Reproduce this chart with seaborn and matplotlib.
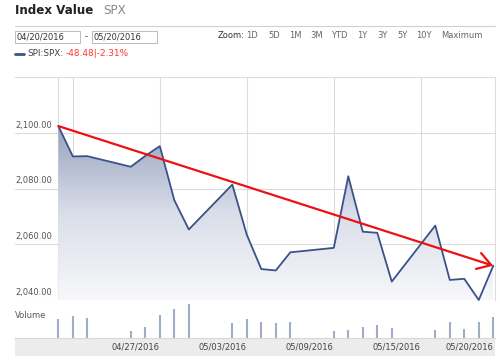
import numpy as np
import pandas as pd
import matplotlib
matplotlib.use("Agg")
import matplotlib.pyplot as plt
import matplotlib.dates as mdates
from matplotlib.patches import Rectangle, Polygon
from matplotlib.lines import Line2D
from matplotlib.colors import LinearSegmentedColormap
import seaborn as sns

# ---- data ----
dates = ["2016-04-20", "2016-04-21", "2016-04-22", "2016-04-25", "2016-04-26",
         "2016-04-27", "2016-04-28", "2016-04-29", "2016-05-02", "2016-05-03",
         "2016-05-04", "2016-05-05", "2016-05-06", "2016-05-09", "2016-05-10",
         "2016-05-11", "2016-05-12", "2016-05-13", "2016-05-16", "2016-05-17",
         "2016-05-18", "2016-05-19", "2016-05-20"]
close = [2102.4, 2091.5, 2091.6, 2087.8, 2091.7,
         2095.2, 2075.8, 2065.3, 2081.4, 2063.4,
         2051.1, 2050.6, 2057.1, 2058.7, 2084.4,
         2064.5, 2064.1, 2046.6, 2066.7, 2047.2,
         2047.6, 2040.0, 2052.3]
volume = [19, 22, 20, 7, 11, 23, 28, 33, 15, 19, 16, 15, 16,
          7, 8, 11, 13, 10, 8, 16, 9, 16, 21]

y_ticks = [2040, 2060, 2080, 2100]
grid_dates = ["2016-04-20", "2016-04-21", "2016-04-27", "2016-05-03",
              "2016-05-09", "2016-05-15"]
label_dates = ["2016-04-27", "2016-05-03", "2016-05-09", "2016-05-15", "2016-05-20"]
zoom_labels = ["1D", "5D", "1M", "3M", "YTD", "1Y", "3Y", "5Y", "10Y", "Maximum"]

df = pd.DataFrame({"Date": pd.to_datetime(dates), "Close": close, "Volume": volume})

LINE = "#3b5288"
GRID = "#dcdcdc"
W, H = 500, 360


def fx(x):
    return x / W


def fy(y):
    return 1 - y / H


sns.set_style("white")
plt.rcParams["font.family"] = ["DejaVu Sans"]

fig = plt.figure(figsize=(5, 3.6), dpi=100)
fig.patch.set_facecolor("white")

# ---- header ----
fig.text(fx(15), fy(14), "Index Value", fontsize=8.6, fontweight="bold", color="#222222")
fig.text(fx(103), fy(14), "SPX", fontsize=8.6, color="#888888")
fig.add_artist(Line2D([fx(15), fx(495)], [fy(26), fy(26)], color="#d0d0d0", lw=0.8))

for x0, txt in [(15, "04/20/2016"), (92, "05/20/2016")]:
    fig.add_artist(Rectangle((fx(x0), fy(43)), fx(65), 12 / H, facecolor="white",
                             edgecolor="#bbbbbb", lw=0.7))
    fig.text(fx(x0 + 1.5), fy(37), txt, fontsize=6, color="#333333", va="center")
fig.text(fx(85), fy(37), "-", fontsize=6, color="#333333", va="center")

fig.text(fx(218), fy(35.5), "Zoom:", fontsize=6, color="#333333", va="center")
zx = [246, 268, 289, 310, 331, 357, 377, 397, 416, 441]
for x0, lab in zip(zx, zoom_labels):
    fig.text(fx(x0), fy(35.5), lab, fontsize=6, color="#666666", va="center")

fig.add_artist(Line2D([fx(15), fx(24)], [fy(53.5), fy(53.5)], color=LINE, lw=2))
fig.text(fx(27), fy(53.5), "SPI:SPX:", fontsize=6.4, color="#444444", va="center")
fig.text(fx(65.5), fy(53.5), "-48.48|-2.31%", fontsize=6.4, color="#ff3333", va="center")

# ---- main price axes ----
ax = fig.add_axes([fx(15), fy(300), fx(480), 223 / H])
x_num = mdates.date2num(df["Date"])
x_lo = x_num[0] - 2.99
x_hi = x_num[-1] + 0.12

for d in grid_dates:
    ax.axvline(pd.Timestamp(d), color=GRID, lw=0.8, zorder=0)
for t in y_ticks:
    ax.axhline(t, color=GRID, lw=0.8, zorder=0)

cmap = LinearSegmentedColormap.from_list("fade", [(0, "#f7f8fa"), (0.5, "#dadee9"), (1, "#97a2c1")])
grad = np.linspace(0, 1, 256).reshape(-1, 1)
im = ax.imshow(grad, extent=[x_num[0], x_num[-1], 2040, max(close)], origin="lower",
               aspect="auto", cmap=cmap, zorder=1)
verts = [(x_num[0], 2040)] + list(zip(x_num, close)) + [(x_num[-1], 2040)]
clip = Polygon(verts, closed=True, transform=ax.transData, facecolor="none", edgecolor="none")
ax.add_patch(clip)
im.set_clip_path(clip)

sns.lineplot(data=df, x="Date", y="Close", ax=ax, color=LINE, lw=1.3, zorder=3)
for ln in ax.lines[-1:]:
    ln.set_clip_on(False)

ax.annotate("", xy=(df["Date"].iloc[-1], close[-1]), xytext=(df["Date"].iloc[0], close[0]),
            arrowprops=dict(arrowstyle="->,head_length=0.8,head_width=0.5", color="#ee1111",
                            lw=1.6, shrinkA=0, shrinkB=0, mutation_scale=12),
            zorder=4, annotation_clip=False)

for t in y_ticks:
    ax.text(0, t + 1.1, f"{t:,.2f}", transform=ax.get_yaxis_transform(), fontsize=6,
            color="#555555", ha="left", va="bottom")

ax.set_xlim(x_lo, x_hi)
ax.set_ylim(2040, 2120)
ax.set_xticks([])
ax.set_yticks([])
ax.set_xlabel("")
ax.set_ylabel("")
for s in ["left", "bottom"]:
    ax.spines[s].set_visible(False)
ax.spines["top"].set_color(GRID)
ax.spines["right"].set_color(GRID)
ax.spines["top"].set_linewidth(0.8)
ax.spines["right"].set_linewidth(0.8)

# ---- volume axes ----
vax = fig.add_axes([fx(15), fy(338), fx(480), 37 / H])
vax.vlines(df["Date"], 0, df["Volume"], color="#a2acc8", lw=1.5)
vax.set_xlim(x_lo, x_hi)
vax.set_ylim(0, max(volume) * 1.1)
vax.set_yticks([])
vax.set_xticks(pd.to_datetime(label_dates))
vax.set_xticklabels([pd.Timestamp(d).strftime("%m/%d/%Y") for d in label_dates],
                    fontsize=6, color="#444444", ha="right")
vax.tick_params(axis="x", length=0, pad=3.5)
for s in ["left", "right", "top"]:
    vax.spines[s].set_visible(False)
vax.spines["bottom"].set_color("#d8d8d8")
vax.text(0, 0.62, "Volume", transform=vax.transAxes, fontsize=6, color="#555555",
         ha="left", va="center")

fig.add_artist(Rectangle((fx(15), fy(356)), fx(480), 18 / H, facecolor="#ececec",
                         edgecolor="none", zorder=0))

fig.savefig("out.png", dpi=100)
